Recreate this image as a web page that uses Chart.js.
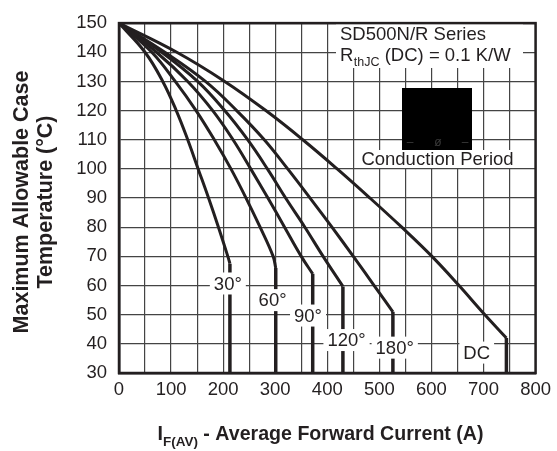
<!DOCTYPE html>
<html><head><meta charset="utf-8">
<script src="https://cdn.jsdelivr.net/npm/chart.js@4/dist/chart.umd.min.js"></script>
<style>html,body{margin:0;padding:0;background:#fff}#wrap{width:557px;height:451px}</style>
</head><body><div id="wrap"><canvas id="c" width="557" height="451"></canvas></div>
<script>
// ---- data ----
const seriesNames = ['30°', '60°', '90°', '120°', '180°', 'DC'];
const cur30  = [0, 50, 84, 110, 132, 152, 172, 191, 209, 213, 213];
const temp30 = [150, 140, 130, 120, 110, 100, 90, 80, 70, 67.5, 30];
const cur60  = [0, 63, 108, 148, 183, 215, 244, 271, 296, 301, 301];
const temp60 = [150, 140, 130, 120, 110, 100, 90, 80, 70, 66, 30];
const cur90  = [0, 72, 132, 180, 219, 253, 286, 318, 350, 372, 372];
const temp90 = [150, 140, 130, 120, 110, 100, 90, 80, 70, 64, 30];
const cur120  = [0, 82, 151, 203, 247, 285, 320, 357, 392, 430, 430];
const temp120 = [150, 140, 130, 120, 110, 100, 90, 80, 70, 59.7, 30];
const cur180  = [0, 88, 166, 226, 279, 324, 367, 409, 450, 490, 526, 526];
const temp180 = [150, 140, 130, 120, 110, 100, 90, 80, 70, 60, 51, 30];
const curDC  = [0, 111, 203, 282, 353, 419, 482, 543, 601, 653, 700, 744, 744];
const tempDC = [150, 140, 130, 120, 110, 100, 90, 80, 70, 60, 50.5, 42, 30];
const xTicks = [0, 100, 200, 300, 400, 500, 600, 700, 800];
const yTicks = [30, 40, 50, 60, 70, 80, 90, 100, 110, 120, 130, 140, 150];
// label anchors in data units (current, temperature)
const labelCur  = [209, 295, 363, 437, 529.5, 687];
const labelTemp = [60.7, 55, 49.7, 41.3, 38.7, 37];

const FONT = '"Liberation Sans", Arial, Helvetica, sans-serif';
const INK = '#231f20';

const curves = [[cur30,temp30],[cur60,temp60],[cur90,temp90],[cur120,temp120],[cur180,temp180],[curDC,tempDC]];
const datasets = [];
curves.forEach(([xs, ys], i) => {
  const pts = xs.map((x, k) => ({x, y: ys[k]}));
  datasets.push({label: seriesNames[i], data: pts.slice(0, pts.length - 1), borderColor: INK,
    borderWidth: 3, pointRadius: 0, tension: 0.4, fill: false});
  datasets.push({label: seriesNames[i] + ' drop', data: pts.slice(pts.length - 2), borderColor: INK,
    borderWidth: 3.5, pointRadius: 0, tension: 0, fill: false});
});

function whiteBox(ctx, x0, y0, x1, y1) { ctx.fillStyle = '#fff'; ctx.fillRect(x0, y0, x1 - x0, y1 - y0); }

const overlay = {
  id: 'overlay',
  afterDatasetsDraw(chart) {
    const ctx = chart.ctx, xs = chart.scales.x, ys = chart.scales.y, a = chart.chartArea;
    ctx.save();
    ctx.textBaseline = 'middle';
    ctx.textAlign = 'center';
    ctx.font = '18.5px ' + FONT;
    seriesNames.forEach((n, i) => {
      const cx = xs.getPixelForValue(labelCur[i]), cy = ys.getPixelForValue(labelTemp[i]);
      const w = ctx.measureText(n).width;
      whiteBox(ctx, cx - w / 2 - 4, cy - 11, cx + w / 2 + 4, cy + 11);
      ctx.fillStyle = INK;
      ctx.fillText(n, cx, cy + 1);
    });
    whiteBox(ctx, 336, 20, 523, 68);
    ctx.textAlign = 'left';
    ctx.textBaseline = 'alphabetic';
    ctx.fillStyle = INK;
    ctx.fillText('SD500N/R Series', 340, 39.5);
    ctx.fillText('R', 340, 61);
    let x = 340 + ctx.measureText('R').width;
    ctx.font = '12.5px ' + FONT;
    ctx.fillText('thJC', x + 0.5, 65.5);
    x += ctx.measureText('thJC').width + 0.5;
    ctx.font = '18.5px ' + FONT;
    ctx.fillText(' (DC) = 0.1 K/W', x, 61);
    ctx.fillStyle = '#000';
    ctx.fillRect(402, 88, 70, 62);
    ctx.fillStyle = '#3a3a3a';
    ctx.font = '12px ' + FONT;
    ctx.textAlign = 'center';
    ctx.fillText('–', 410, 146);
    ctx.fillText('ø', 438, 146);
    ctx.fillText('–', 465, 146);
    whiteBox(ctx, 357, 150, 533, 168);
    ctx.fillStyle = INK;
    ctx.font = '18.5px ' + FONT;
    ctx.fillText('Conduction Period', 437.5, 165);
    ctx.strokeStyle = INK;
    ctx.lineWidth = 2.5;
    ctx.strokeRect(a.left, a.top, a.right - a.left, a.bottom - a.top);
    ctx.restore();
  },
  afterDraw(chart) {
    const ctx = chart.ctx;
    ctx.save();
    ctx.fillStyle = INK;
    ctx.translate(22, 202);
    ctx.rotate(-Math.PI / 2);
    ctx.textAlign = 'center';
    ctx.textBaseline = 'middle';
    ctx.font = 'bold 21.5px ' + FONT;
    ctx.fillText('Maximum Allowable Case', 0, 0);
    ctx.fillText('Temperature (°C)', 0, 24);
    ctx.restore();
    ctx.save();
    ctx.fillStyle = INK;
    ctx.textBaseline = 'alphabetic';
    ctx.textAlign = 'left';
    const big = 'bold 19.6px ' + FONT, small = 'bold 13.5px ' + FONT;
    ctx.font = big; const w1 = ctx.measureText('I').width;
    ctx.font = small; const w2 = ctx.measureText('F(AV)').width;
    ctx.font = big; const w3 = ctx.measureText(' - Average Forward Current (A)').width;
    let x = 320.5 - (w1 + w2 + w3) / 2;
    ctx.font = big; ctx.fillText('I', x, 440); x += w1;
    ctx.font = small; ctx.fillText('F(AV)', x, 446); x += w2;
    ctx.font = big; ctx.fillText(' - Average Forward Current (A)', x, 440);
    ctx.restore();
  }
};

new Chart(document.getElementById('c'), {
  type: 'line',
  data: {datasets},
  options: {
    responsive: false, animation: false, devicePixelRatio: 1,
    layout: {padding: {left: 0, right: 21, top: 13, bottom: 0}},
    plugins: {legend: {display: false}, tooltip: {enabled: false}},
    scales: {
      x: {
        type: 'linear', min: 0, max: 800,
        afterFit(s) { s.height = 78; },
        afterBuildTicks(s) {
          const t = [];
          for (let v = 0; v <= 800; v += 50) t.push({value: v});
          s.ticks = t;
        },
        ticks: {autoSkip: false, maxRotation: 0, padding: 6, color: INK,
          font: {family: FONT, size: 18.5},
          callback: (v) => xTicks.includes(v) ? String(v) : ''},
        grid: {color: '#444', lineWidth: 1.2, drawTicks: false},
        border: {display: true, color: INK, width: 2.5}
      },
      y: {
        type: 'linear', min: 30, max: 150,
        afterFit(s) { s.width = 119; },
        afterBuildTicks(s) { s.ticks = yTicks.map(v => ({value: v})); },
        ticks: {padding: 12, color: INK, font: {family: FONT, size: 18.5}},
        grid: {color: '#444', lineWidth: 1.2, drawTicks: false},
        border: {display: true, color: INK, width: 2.5}
      }
    }
  },
  plugins: [overlay]
});
</script>
</body></html>
